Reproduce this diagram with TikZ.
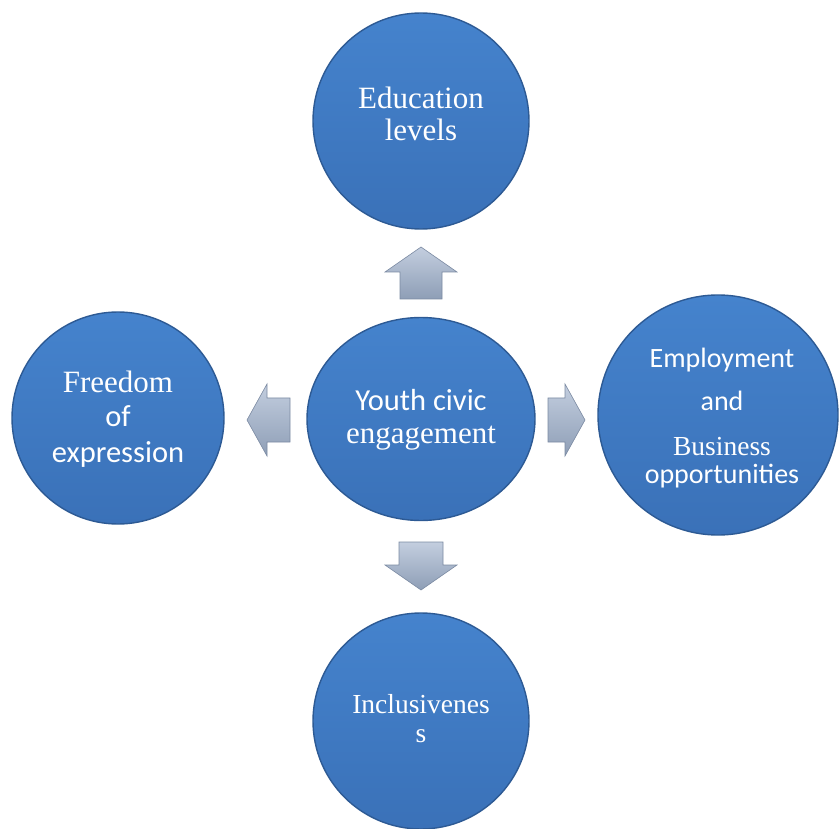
\documentclass[tikz,border=0pt]{standalone}
\usepackage{fontspec}
\setmainfont{Liberation Serif}
\newfontfamily\calib{Carlito}
\usetikzlibrary{shapes.geometric}
\definecolor{ballTop}{HTML}{4583CD}
\definecolor{ballBot}{HTML}{3A71B8}
\definecolor{ballEdge}{HTML}{2D5A94}
\definecolor{arrLight}{HTML}{C3CEDF}
\definecolor{arrDark}{HTML}{8E9EB6}
\definecolor{arrEdge}{HTML}{7B8AA2}
\tikzset{
  ball/.style={circle, inner sep=0pt, top color=ballTop, bottom color=ballBot,
    draw=ballEdge, line width=1.4pt},
  lbl/.style={text=white, anchor=base, inner sep=0pt},
  blockarrow/.style={top color=arrLight, bottom color=arrDark, draw=arrEdge, line width=0.6pt},
}
\begin{document}
\begin{tikzpicture}[x=1pt,y=-1pt]
  \useasboundingbox (0,0) rectangle (839,829);

  % central and surrounding discs
  \node[ball, ellipse, minimum width=228pt, minimum height=203pt] (hub) at (421,419) {};
  \node[ball, minimum size=216pt] (edu) at (421,121) {};
  \node[ball, minimum size=212pt] (free) at (118,418) {};
  \node[ball, minimum size=240pt] (emp) at (718,415) {};
  \node[ball, minimum size=216pt] (inc) at (421,721) {};

  % block arrows between the hub and the outer discs
  \draw[blockarrow] (400,299) -- (400,272) -- (385,272) -- (421,247) -- (457,272) -- (442,272) -- (442,299) -- cycle;
  \draw[blockarrow] (399,542) -- (399,565) -- (385,565) -- (421,590) -- (457,565) -- (443,565) -- (443,542) -- cycle;
  \draw[blockarrow] (548,398) -- (565,398) -- (565,384) -- (585,420) -- (565,456) -- (565,442) -- (548,442) -- cycle;
  \draw[blockarrow] (290,398) -- (267,398) -- (267,384) -- (247,420) -- (267,456) -- (267,442) -- (290,442) -- cycle;

  % labels
  \node[lbl, font=\fontsize{31}{31}\selectfont] (edu1) at (421,109) {Education};
  \node[lbl, font=\fontsize{31}{31}\selectfont] (edu2) at (421,141) {levels};

  \node[lbl, font=\calib\fontsize{30.5}{30.5}\selectfont] (hub1) at (421,410) {Youth civic};
  \node[lbl, font=\fontsize{31}{31}\selectfont] (hub2) at (421,443) {engagement};

  \node[lbl, font=\fontsize{31}{31}\selectfont] (free1) at (118,392) {Freedom};
  \node[lbl, font=\calib\fontsize{30.5}{30.5}\selectfont] (free2) at (118,427) {of};
  \node[lbl, font=\calib\fontsize{30.5}{30.5}\selectfont] (free3) at (118,462) {expression};

  \node[lbl, font=\calib\fontsize{28}{28}\selectfont] (emp1) at (722,367) {Employment};
  \node[lbl, font=\calib\fontsize{28}{28}\selectfont] (emp2) at (722,410) {and};
  \node[lbl, font=\fontsize{27.5}{27.5}\selectfont] (emp3) at (722,455) {Business};
  \node[lbl, font=\calib\fontsize{28}{28}\selectfont] (emp4) at (722,483) {opportunities};

  \node[lbl, font=\fontsize{27.5}{27.5}\selectfont] (inc1) at (421,713) {Inclusivenes};
  \node[lbl, font=\fontsize{27.5}{27.5}\selectfont] (inc2) at (421,742) {s};
\end{tikzpicture}
\end{document}
